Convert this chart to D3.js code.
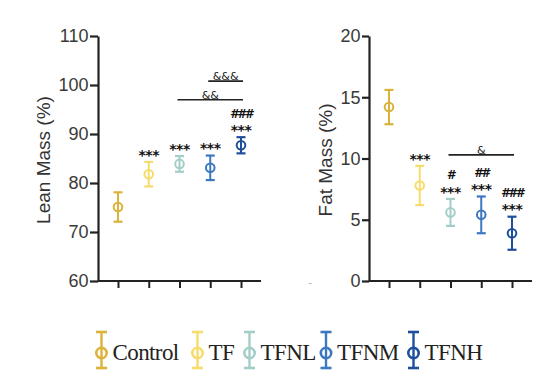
<!DOCTYPE html>
<html>
<head>
<meta charset="utf-8">
<script src="https://cdn.jsdelivr.net/npm/d3@7"></script>
<style>
  body { margin: 0; background: #fff; }
  svg { display: block; }
</style>
</head>
<body>
<svg id="chart" width="560" height="377"></svg>
<script>
// groups and colours
const groups = ['Control', 'TF', 'TFNL', 'TFNM', 'TFNH'];
const colors = ['#dbb23a', '#f6dc6c', '#a3cec8', '#3b78c0', '#1e4f9c'];

// lean mass (%) mean and sem
const leanMean = [75.1, 81.8, 83.9, 83.1, 87.7];
const leanErr = [3.0, 2.5, 1.6, 2.5, 1.65];
const leanTicks = [60, 70, 80, 90, 100, 110];

// fat mass (%) mean and sem
const fatMean = [14.2, 7.8, 5.6, 5.4, 3.9];
const fatErr = [1.4, 1.6, 1.1, 1.5, 1.35];
const fatTicks = [0, 5, 10, 15, 20];

// significance marks: [group index, text, row] row 0 = just above bar, 1 = above that
const leanMarks = [[1, '***', 0], [2, '***', 0], [3, '***', 0], [4, '***', 0], [4, '###', 1]];
const fatMarks = [[1, '***', 0], [2, '***', 0], [2, '#', 1], [3, '***', 0], [3, '##', 1], [4, '***', 0], [4, '###', 1]];

// brackets: [from, to, value level, label]
const leanBrackets = [[2, 4, 97, '&&'], [3, 4, 100.8, '&&&']];
const fatBrackets = [[2, 4, 10.3, '&']];

let svg = d3.select('svg#chart');

function panel(opt) {
    let g = svg.append('g');
    let y = d3.scaleLinear().domain(opt.domain).range([281, 36]);
    let x = d3.scalePoint().domain(groups).range([opt.x0 + 20, opt.x0 + 143]);

    // y axis
    let yAxis = g.append('g')
        .attr('transform', `translate(${opt.x0},0)`)
        .call(d3.axisLeft(y).tickValues(opt.ticks).tickSize(opt.tick).tickSizeOuter(0));
    yAxis.select('.domain').attr('stroke', '#222').attr('stroke-width', 2.2);
    yAxis.selectAll('.tick line').attr('stroke', '#222').attr('stroke-width', 2.2);
    yAxis.selectAll('.tick text')
        .attr('font-family', 'Liberation Sans, Arial, sans-serif')
        .attr('font-size', 18).attr('fill', '#3a3a3a').attr('x', -opt.tick - 1.5);

    // x axis
    let xAxis = g.append('g')
        .attr('transform', `translate(0,281)`)
        .call(d3.axisBottom(x).tickSize(7).tickSizeOuter(0).tickFormat(''));
    xAxis.select('.domain').attr('d', `M${opt.x0},0H${opt.x0 + 163}`)
        .attr('stroke', '#222').attr('stroke-width', 2.2);
    xAxis.selectAll('.tick line').attr('stroke', '#222').attr('stroke-width', 2);

    // y label
    g.append('text')
        .attr('transform', `translate(${opt.x0 - opt.labelOff},160) rotate(-90)`)
        .attr('text-anchor', 'middle')
        .attr('font-family', 'Liberation Sans, Arial, sans-serif')
        .attr('font-size', 19).attr('fill', '#333')
        .text(opt.label);

    // error bars
    let pts = g.selectAll('g.pt').data(groups).enter().append('g').attr('class', 'pt');
    pts.append('line')
        .attr('x1', d => x(d)).attr('x2', d => x(d))
        .attr('y1', (d, i) => y(opt.mean[i] + opt.err[i]))
        .attr('y2', (d, i) => y(opt.mean[i] - opt.err[i]))
        .attr('stroke', (d, i) => colors[i]).attr('stroke-width', 2);
    [1, -1].forEach(s => {
        pts.append('line')
            .attr('x1', d => x(d) - 4.5).attr('x2', d => x(d) + 4.5)
            .attr('y1', (d, i) => y(opt.mean[i] + s * opt.err[i]))
            .attr('y2', (d, i) => y(opt.mean[i] + s * opt.err[i]))
            .attr('stroke', (d, i) => colors[i]).attr('stroke-width', 2.2);
    });
    pts.append('circle')
        .attr('cx', d => x(d)).attr('cy', (d, i) => y(opt.mean[i]))
        .attr('r', 4.3).attr('fill', 'none')
        .attr('stroke', (d, i) => colors[i]).attr('stroke-width', 2);

    // stars and hashes (star centre ~10px above the bar top, hashes 14px higher)
    g.selectAll('text.mark').data(opt.marks).enter().append('text')
        .attr('class', 'mark')
        .attr('x', d => x(groups[d[0]]))
        .attr('y', d => {
            let top = y(opt.mean[d[0]] + opt.err[d[0]]);
            return d[2] === 0 ? top - 2.3 : top - 10 - 14 + 4.4;
        })
        .attr('text-anchor', 'middle')
        .attr('font-family', 'DejaVu Sans, sans-serif')
        .attr('font-size', d => d[2] === 0 ? 14 : 12)
        .attr('font-style', d => d[2] === 1 ? 'italic' : 'normal')
        .attr('font-weight', 'bold')
        .attr('fill', '#111')
        .attr('letter-spacing', d => d[2] === 0 ? -0.5 : -1)
        .text(d => d[1]);

    // brackets
    g.selectAll('line.br').data(opt.brackets).enter().append('line')
        .attr('x1', d => x(groups[d[0]]) - 2).attr('x2', d => x(groups[d[1]]) + 2)
        .attr('y1', d => y(d[2])).attr('y2', d => y(d[2]))
        .attr('stroke', '#222').attr('stroke-width', 1.6);
    g.selectAll('text.br').data(opt.brackets).enter().append('text')
        .attr('x', d => (x(groups[d[0]]) + x(groups[d[1]])) / 2)
        .attr('y', d => y(d[2]) - 1)
        .attr('text-anchor', 'middle')
        .attr('font-family', 'DejaVu Sans, sans-serif')
        .attr('font-size', 11).attr('fill', '#222')
        .text(d => d[3]);
}

panel({ x0: 98, domain: [60, 110], ticks: leanTicks, mean: leanMean, err: leanErr, tick: 8, labelOff: 48,
    marks: leanMarks, brackets: leanBrackets, label: 'Lean Mass (%)' });
panel({ x0: 369, domain: [0, 20], ticks: fatTicks, mean: fatMean, err: fatErr, tick: 7, labelOff: 37,
    marks: fatMarks, brackets: fatBrackets, label: 'Fat Mass (%)' });

// small stray dash below fat panel
svg.append('text').attr('x', 310).attr('y', 286).attr('text-anchor', 'middle')
    .attr('font-size', 9).attr('fill', '#999').attr('font-family', 'DejaVu Sans, sans-serif').text('-');

// legend
const legendX = [101.5, 197.5, 249.5, 326, 413.5];
let leg = svg.append('g').selectAll('g').data(groups).enter().append('g')
    .attr('transform', (d, i) => `translate(${legendX[i]},0)`);
leg.append('line').attr('x1', 0).attr('x2', 0).attr('y1', 332).attr('y2', 368)
    .attr('stroke', (d, i) => colors[i]).attr('stroke-width', 2.4);
[332, 368].forEach(yy => {
    leg.append('line').attr('x1', -5.5).attr('x2', 5.5).attr('y1', yy).attr('y2', yy)
        .attr('stroke', (d, i) => colors[i]).attr('stroke-width', 2.6);
});
leg.append('circle').attr('cx', 0).attr('cy', 353).attr('r', 5.2).attr('fill', 'none')
    .attr('stroke', (d, i) => colors[i]).attr('stroke-width', 2.6);
leg.append('text').attr('x', 11).attr('y', 360)
    .attr('font-family', 'Liberation Serif, Times New Roman, serif')
    .attr('font-size', 23).attr('fill', '#222')
    .attr('letter-spacing', -0.6)
    .text(d => d);
</script>
</body>
</html>
